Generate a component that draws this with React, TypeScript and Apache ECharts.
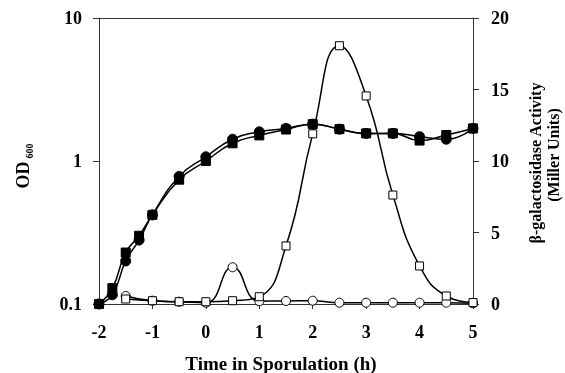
import React, { useEffect, useRef } from "react";
import * as echarts from "echarts";

// Sampling times (h relative to start of sporulation)
const odTimes = [-2, -1.75, -1.5, -1.25, -1, -0.5, 0, 0.5, 1, 1.5, 2, 2.5, 3, 3.5, 4, 4.5, 5];
const odCircles = [0.1, 0.116, 0.2, 0.28, 0.42, 0.78, 1.07, 1.42, 1.6, 1.69, 1.81, 1.67, 1.56, 1.56, 1.48, 1.42, 1.69];
const odSquares = [0.1, 0.129, 0.229, 0.3, 0.42, 0.74, 1.0, 1.33, 1.51, 1.66, 1.81, 1.67, 1.56, 1.56, 1.39, 1.52, 1.69];

const galTimes = [-1.5, -1, -0.5, 0, 0.5, 1, 1.5, 2, 2.5, 3, 3.5, 4, 4.5, 5];
const galCircles = [0.56, 0.23, 0.16, 0.09, 2.57, 0.2, 0.21, 0.23, 0.09, 0.09, 0.09, 0.09, 0.09, 0.05];
const galSquares = [0.35, 0.23, 0.16, 0.16, 0.23, 0.51, 4.06, 11.9, 18.06, 14.55, 7.62, 2.66, 0.56, 0.1];

const xTitle = "Time in Sporulation (h)";
const rightTitle1 = "β-galactosidase Activity";
const rightTitle2 = "(Miller Units)";

const FONT = "'Liberation Serif', 'Times New Roman', serif";
const AXIS_COLOR = "#333";

const pair = (xs: number[], ys: number[]) => xs.map((x, i) => [x, ys[i]]);

export default function App() {
  const ref = useRef<HTMLDivElement>(null);

  useEffect(() => {
    if (!ref.current) return;
    const chart = echarts.init(ref.current, undefined, { renderer: "svg" });

    const labelStyle = {
      color: "#000",
      fontFamily: FONT,
      fontWeight: "bold" as const,
      fontSize: 18,
    };

    const lineSeries = (
      name: string,
      data: number[][],
      yAxisIndex: number,
      symbol: string,
      size: number,
      filled: boolean
    ) => ({
      name,
      type: "line",
      yAxisIndex,
      data,
      smooth: 0.5,
      symbol,
      symbolSize: size,
      showAllSymbol: true,
      lineStyle: { color: "#000", width: 1.5 },
      itemStyle: {
        color: filled ? "#000" : "#fff",
        borderColor: "#000",
        borderWidth: 1,
      },
      emphasis: { disabled: true },
    });

    chart.setOption({
      animation: false,
      grid: { left: 99, right: 92, top: 18, bottom: 69 },
      xAxis: [
        {
          type: "value",
          min: -2,
          max: 5,
          interval: 1,
          position: "bottom",
          axisLine: { onZero: false, lineStyle: { color: AXIS_COLOR, width: 1 } },
          axisTick: { show: true, inside: false, length: 5, lineStyle: { color: AXIS_COLOR } },
          axisLabel: { ...labelStyle, margin: 19 },
          splitLine: { show: false },
        },
        {
          type: "value",
          min: -2,
          max: 5,
          position: "top",
          axisLine: { show: true, onZero: false, lineStyle: { color: AXIS_COLOR, width: 1 } },
          axisTick: { show: false },
          axisLabel: { show: false },
          splitLine: { show: false },
        },
      ],
      yAxis: [
        {
          type: "log",
          logBase: 10,
          min: 0.1,
          max: 10,
          position: "left",
          axisLine: { show: true, onZero: false, lineStyle: { color: AXIS_COLOR, width: 1 } },
          axisTick: { show: true, inside: false, length: 6, lineStyle: { color: AXIS_COLOR } },
          minorTick: { show: false },
          axisLabel: { ...labelStyle, margin: 17 },
          splitLine: { show: false },
        },
        {
          type: "value",
          min: 0,
          max: 20,
          interval: 5,
          position: "right",
          axisLine: { show: true, onZero: false, lineStyle: { color: AXIS_COLOR, width: 1 } },
          axisTick: { show: true, inside: false, length: 6, lineStyle: { color: AXIS_COLOR } },
          axisLabel: { ...labelStyle, margin: 18 },
          splitLine: { show: false },
        },
      ],
      series: [
        lineSeries("β-gal (circles)", pair(galTimes, galCircles), 1, "circle", 9, false),
        lineSeries("β-gal (squares)", pair(galTimes, galSquares), 1, "rect", 8, false),
        lineSeries("OD (circles)", pair(odTimes, odCircles), 0, "circle", 10, true),
        lineSeries("OD (squares)", pair(odTimes, odSquares), 0, "rect", 9, true),
      ],
      graphic: [
        {
          type: "text",
          x: 281,
          y: 363,
          style: {
            text: xTitle,
            fill: "#000",
            font: `bold 19px ${FONT}`,
            textAlign: "center",
            textVerticalAlign: "middle",
          },
        },
        {
          type: "text",
          x: 23,
          y: 175,
          rotation: Math.PI / 2,
          style: {
            text: "OD",
            fill: "#000",
            font: `bold 18px ${FONT}`,
            textAlign: "center",
            textVerticalAlign: "middle",
          },
        },
        {
          type: "text",
          x: 29,
          y: 151,
          rotation: Math.PI / 2,
          style: {
            text: "600",
            fill: "#000",
            font: `bold 10px ${FONT}`,
            textAlign: "center",
            textVerticalAlign: "middle",
          },
        },
        {
          type: "text",
          x: 535,
          y: 163,
          rotation: Math.PI / 2,
          style: {
            text: rightTitle1,
            fill: "#000",
            font: `bold 16px ${FONT}`,
            textAlign: "center",
            textVerticalAlign: "middle",
          },
        },
        {
          type: "text",
          x: 553,
          y: 155,
          rotation: Math.PI / 2,
          style: {
            text: rightTitle2,
            fill: "#000",
            font: `bold 16px ${FONT}`,
            textAlign: "center",
            textVerticalAlign: "middle",
          },
        },
      ],
    });

    return () => chart.dispose();
  }, []);

  return (
    <div
      ref={ref}
      style={{ position: "fixed", left: 0, top: 0, width: 565, height: 373 }}
    />
  );
}
